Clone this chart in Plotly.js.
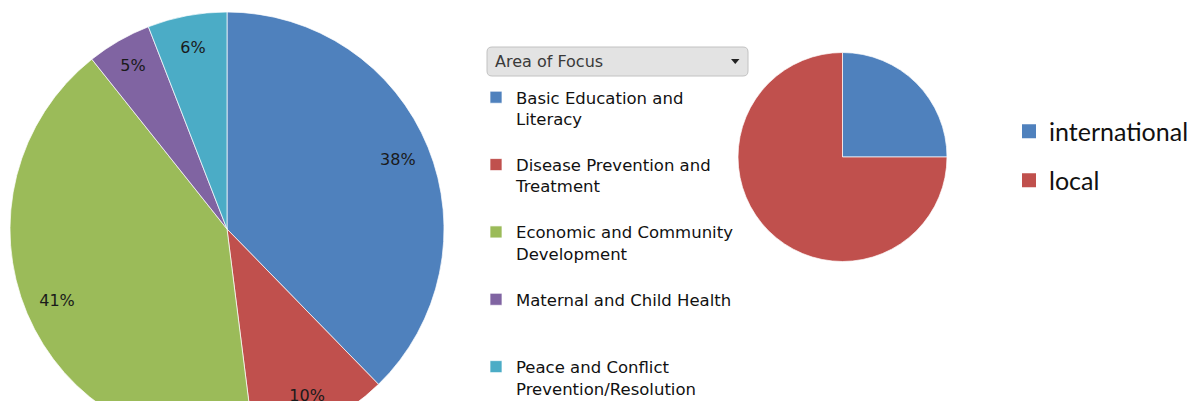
<!DOCTYPE html>
<html>
<head>
<meta charset="utf-8">
<script src="https://cdn.plot.ly/plotly-3.0.1.min.js"></script>
<style>
html, body { margin: 0; padding: 0; overflow: hidden; background: #fff; }
#chart { width: 1190px; height: 460px; }
</style>
</head>
<body>
<div id="chart"></div>
<script>
// ---- data ----
const focusLabels = [
  "Basic Education and<br>Literacy<br> ",
  "Disease Prevention and<br>Treatment<br> ",
  "Economic and Community<br>Development<br> ",
  "Maternal and Child Health<br> <br> ",
  "Peace and Conflict<br>Prevention/Resolution<br> "
];
const focusValues = [37.7, 10.3, 41.3, 4.8, 5.9];
const focusColors = ["#4F81BD", "#C0504D", "#9BBB59", "#8064A2", "#4BACC6"];

const scopeLabels = ["international", "local"];
const scopeValues = [25, 75];
const scopeColors = ["#4F81BD", "#C0504D"];

// ---- layout helpers (pixel -> paper) ----
const W = 1190, H = 460;
const px = x => x / W;
const py = y => 1 - y / H;

const bigDomain = { x: [px(10), px(444)], y: [py(446), py(12)] };
const smallDomain = { x: [px(738), px(947)], y: [py(261.5), py(52.5)] };

const traces = [
  {
    type: "pie",
    labels: focusLabels,
    values: focusValues,
    marker: { colors: focusColors, line: { color: "rgba(255,255,255,0.7)", width: 1 } },
    sort: false,
    direction: "clockwise",
    rotation: 0,
    domain: bigDomain,
    textinfo: "none",
    hoverinfo: "label+percent",
    showlegend: true
  },
  {
    // transparent ring used only to place the percentage labels
    type: "pie",
    labels: focusLabels,
    values: focusValues,
    hole: 0.7,
    marker: { colors: focusValues.map(() => "rgba(0,0,0,0)"), line: { width: 0 } },
    sort: false,
    direction: "clockwise",
    rotation: 0,
    domain: bigDomain,
    texttemplate: "%{percent:.0%}",
    textposition: "inside",
    insidetextorientation: "horizontal",
    textfont: { family: "DejaVu Sans", size: 16, color: "#1a1a1a" },
    hoverinfo: "skip",
    showlegend: false
  },
  {
    type: "pie",
    labels: scopeLabels,
    values: scopeValues,
    marker: { colors: scopeColors, line: { color: "rgba(255,255,255,0.7)", width: 1 } },
    sort: false,
    direction: "clockwise",
    rotation: 0,
    domain: smallDomain,
    textinfo: "none",
    hoverinfo: "label+percent",
    showlegend: false
  }
];

scopeLabels.forEach((lab, i) => {
  traces.push({
    type: "scatter",
    mode: "markers",
    x: [null], y: [null],
    name: lab,
    legend: "legend2",
    legendgroup: "g" + i,
    marker: { symbol: "square", size: 14, color: scopeColors[i] },
    hoverinfo: "skip"
  });
});

// rounded dropdown box
function roundRect(x0, y0, x1, y1, r) {
  return "M" + px(x0 + r) + "," + py(y0) +
    " L" + px(x1 - r) + "," + py(y0) +
    " Q" + px(x1) + "," + py(y0) + " " + px(x1) + "," + py(y0 + r) +
    " L" + px(x1) + "," + py(y1 - r) +
    " Q" + px(x1) + "," + py(y1) + " " + px(x1 - r) + "," + py(y1) +
    " L" + px(x0 + r) + "," + py(y1) +
    " Q" + px(x0) + "," + py(y1) + " " + px(x0) + "," + py(y1 - r) +
    " L" + px(x0) + "," + py(y0 + r) +
    " Q" + px(x0) + "," + py(y0) + " " + px(x0 + r) + "," + py(y0) + " Z";
}
const tri = "M" + px(731) + "," + py(59) + " L" + px(739.5) + "," + py(59) +
  " L" + px(735.25) + "," + py(64) + " Z";

const layout = {
  width: W, height: H,
  margin: { l: 0, r: 0, t: 0, b: 0, autoexpand: false },
  paper_bgcolor: "#ffffff",
  plot_bgcolor: "#ffffff",
  xaxis: { visible: false },
  yaxis: { visible: false },
  legend: {
    x: px(476), y: py(80), xanchor: "left", yanchor: "top",
    valign: "top",
    bgcolor: "rgba(0,0,0,0)",
    font: { family: "DejaVu Sans", size: 16.5, color: "#111111" },
    traceorder: "normal"
  },
  legend2: {
    x: px(1009), y: py(108.5), xanchor: "left", yanchor: "top",
    bgcolor: "rgba(0,0,0,0)",
    tracegroupgap: 13.5,
    font: { family: "Lato", size: 25, color: "#111111" },
    traceorder: "grouped"
  },
  shapes: [
    { type: "path", xref: "paper", yref: "paper", path: roundRect(487, 47, 748, 76, 5),
      fillcolor: "#e3e3e3", line: { color: "#c2c2c2", width: 1 }, layer: "above" },
    { type: "path", xref: "paper", yref: "paper", path: tri,
      fillcolor: "#222222", line: { width: 0 }, layer: "above" }
  ],
  annotations: [
    { xref: "paper", yref: "paper", x: px(493), y: py(61.5), xanchor: "left", yanchor: "middle",
      text: "Area of Focus", showarrow: false,
      font: { family: "DejaVu Sans", size: 16, color: "#3a3a3a" } }
  ],
  showlegend: true
};

Plotly.newPlot("chart", traces, layout, { staticPlot: true, displayModeBar: false });
</script>
</body>
</html>
